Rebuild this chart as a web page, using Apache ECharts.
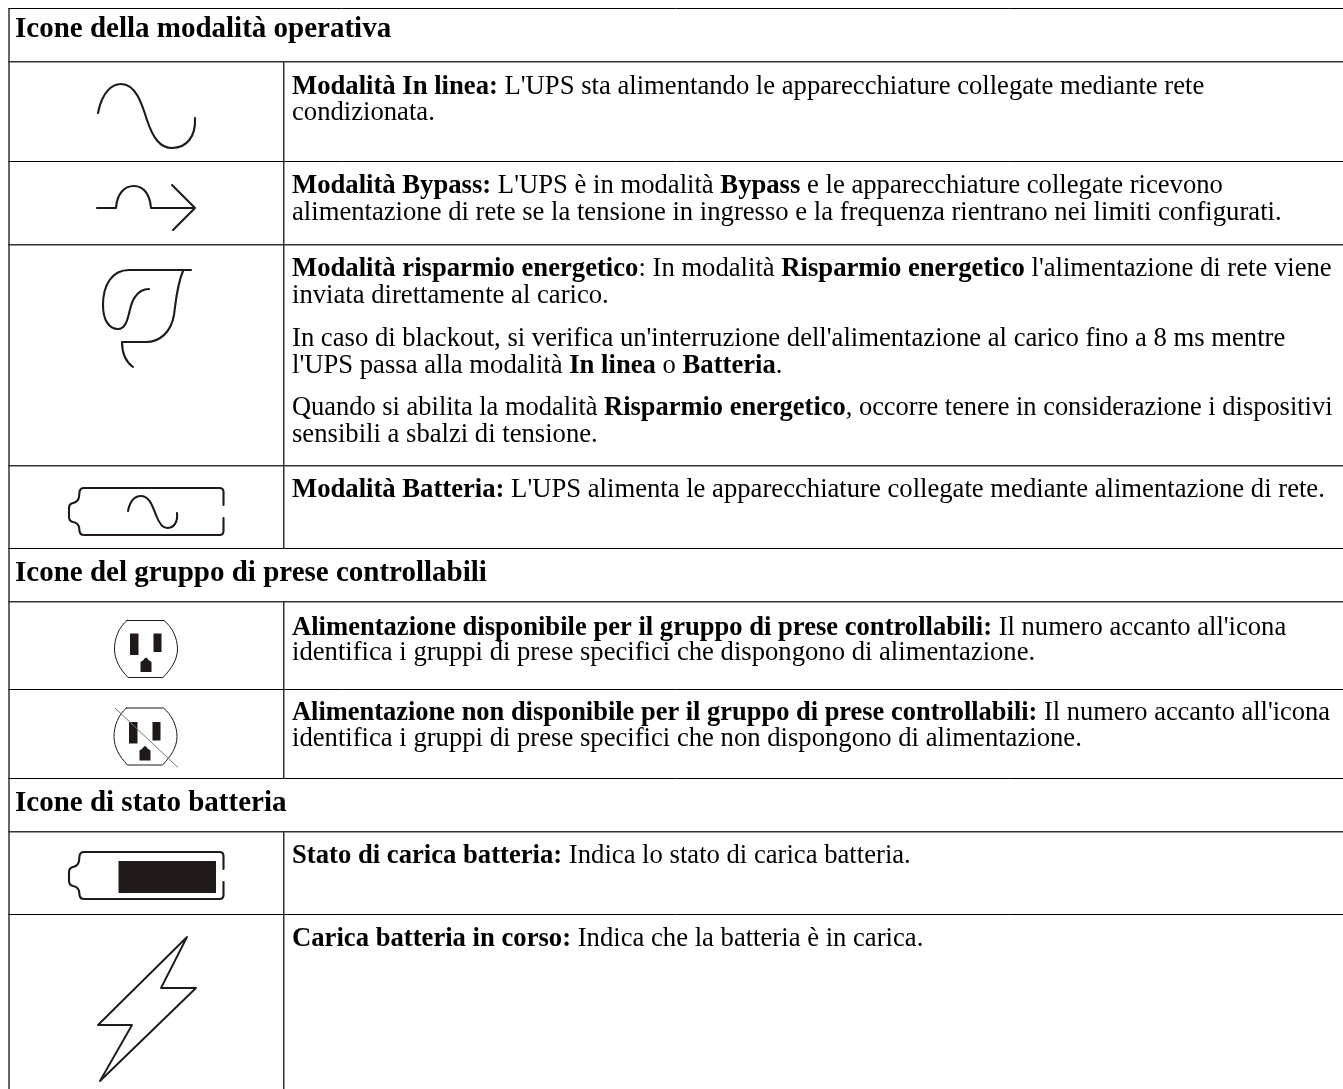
<!DOCTYPE html>
<html>
<head>
<meta charset="utf-8">
<style>
html, body { margin: 0; padding: 0; background: #fff; }
#main { width: 1343px; height: 1089px; }
</style>
<script src="https://cdn.jsdelivr.net/npm/echarts@6/dist/echarts.min.js"></script>
</head>
<body>
<div id="main"></div>
<script>
var sectionTitles = [
  "Icone della modalità operativa",
  "Icone del gruppo di prese controllabili",
  "Icone di stato batteria"
];
var sectionY = [30, 574, 804];

// description lines, **bold** parts are marked
var descriptionLines = [
  "**Modalità In linea:** L'UPS sta alimentando le apparecchiature collegate mediante rete",
  "condizionata.",
  "**Modalità Bypass:** L'UPS è in modalità **Bypass** e le apparecchiature collegate ricevono",
  "alimentazione di rete se la tensione in ingresso e la frequenza rientrano nei limiti configurati.",
  "**Modalità risparmio energetico**: In modalità **Risparmio energetico** l'alimentazione di rete viene",
  "inviata direttamente al carico.",
  "In caso di blackout, si verifica un'interruzione dell'alimentazione al carico fino a 8 ms mentre",
  "l'UPS passa alla modalità **In linea** o **Batteria**.",
  "Quando si abilita la modalità **Risparmio energetico**, occorre tenere in considerazione i dispositivi",
  "sensibili a sbalzi di tensione.",
  "**Modalità Batteria:** L'UPS alimenta le apparecchiature collegate mediante alimentazione di rete.",
  "**Alimentazione disponibile per il gruppo di prese controllabili:** Il numero accanto all'icona",
  "identifica i gruppi di prese specifici che dispongono di alimentazione.",
  "**Alimentazione non disponibile per il gruppo di prese controllabili:** Il numero accanto all'icona",
  "identifica i gruppi di prese specifici che non dispongono di alimentazione.",
  "**Stato di carica batteria:** Indica lo stato di carica batteria.",
  "**Carica batteria in corso:** Indica che la batteria è in carica."
];
var descriptionY = [87, 113, 186, 213, 269, 296, 339, 366, 408, 435, 490, 628, 653, 713, 739, 856, 939];
// a few long lines run slightly narrower in the original
var descriptionFit = [1, 1, 1, 1, 1, 1, 1, 1, 0.992, 1, 1, 0.9975, 1, 0.992, 1, 1, 1];

// table rules: [y, width]. The wider ones look greyer in the scan
var rowLines = [[8.5, 1], [61.75, 1.5], [161.5, 1], [244.75, 1.5], [465.75, 1.5], [548.5, 1], [601.75, 1.5], [689.5, 1], [778.5, 1], [831.75, 1.5], [914.5, 1]];
var columnLineSpans = [[61.5, 548.5], [601.5, 778.5], [831.5, 1089]];

var ICON_COLOR = "#1f1a17";
var RULE_COLOR = "#333";
var serif = '"Liberation Serif", "Times New Roman", serif';

function batteryPath(dy) {
  var y = function (v) { return v + dy; };
  return "M223.5 " + y(505) + " L223.5 " + y(492) + " Q223.5 " + y(488) + " 219.5 " + y(488) +
    " L84 " + y(488) + " Q80 " + y(488) + " 79.5 " + y(492) + " L79 " + y(497) + " Q78 " + y(502) + " 73 " + y(503) +
    " Q69 " + y(504) + " 69 " + y(508) + " L69 " + y(517) + " Q69 " + y(521) + " 73 " + y(522) +
    " Q78 " + y(523) + " 79 " + y(527) + " L79.5 " + y(531) + " Q80 " + y(535) + " 84 " + y(535) +
    " L219.5 " + y(535) + " Q223.5 " + y(535) + " 223.5 " + y(531) + " L223.5 " + y(518);
}

function outletBody(dx, dy) {
  var p = function (x, y) { return (x + dx) + " " + (y + dy); };
  return "M" + p(127, 620.5) + " L" + p(164, 620.5) + " C" + p(172, 627) + " " + p(177.5, 638) + " " + p(177.5, 649) +
    " C" + p(177.5, 660) + " " + p(171, 669) + " " + p(163, 677.5) + " L" + p(128, 677.5) +
    " C" + p(120, 669) + " " + p(114.5, 660) + " " + p(114.5, 649) + " C" + p(114.5, 638) + " " + p(119, 627) + " " + p(127, 620.5) + " Z";
}

function outletPins(dx, dy) {
  var p = function (x, y) { return (x + dx) + " " + (y + dy); };
  return "M" + p(130, 633.5) + " L" + p(138.5, 633.5) + " L" + p(138.5, 655) + " L" + p(130, 655) + " Z" +
    " M" + p(153.5, 633.5) + " L" + p(161.5, 633.5) + " L" + p(161.5, 652) + " L" + p(153.5, 652) + " Z" +
    " M" + p(140.5, 672) + " L" + p(140.5, 662) + " L" + p(143.5, 660) + " Q" + p(146, 655) + " " + p(148.5, 660) +
    " L" + p(151.5, 662) + " L" + p(151.5, 672) + " Z";
}

// stroked icons, drawn in page pixels
var strokeIcons = [
  // sine
  { d: "M98 113 C102 92 112 84 121 84 C136 84 142 104 147 120 C153 138 160 148 172 148 C187 148 196 136 195 118", w: 2.1 },
  // bypass
  { d: "M97 208 L116 208 C117 194 124 186 134 186 C144 186 150 195 151 208 L195 208 M172 185 L195 208 L173 230", w: 2.1 },
  // leaf
  { d: "M191 270 L129 270 C112 270 103 285 103 305 C103 320 109 329 118 329 C130 329 128 305 135 297 C139 291 144 289 149 289", w: 2.1 },
  { d: "M183 271 C177 285 176 300 174 315 C171 332 160 342 146 342 L122 342 C122 354 126 362 133 367", w: 2.1 },
  // batteries
  { d: batteryPath(0), w: 2.1 },
  { d: "M128 511 C130 501 135 496 141 496 C150 496 153 508 156 515 C159 523 162 528 167 528 C174 528 178 522 177 513", w: 2.1 },
  { d: batteryPath(364), w: 2.1 },
  // lightning
  { d: "M187 937 L161 988 L196 988 L100 1081 L132 1025 L98 1025 Z", w: 1.9 },
  // outlets
  { d: outletBody(0, 0), w: 1 },
  { d: outletBody(-0.5, 87.5), w: 1 }
];

var fillIcons = [
  outletPins(0, 0),
  outletPins(-1, 88.5),
  "M118.5 861 L216 861 L216 893 L118.5 893 Z"
];

var elements = [];

elements.push({ type: "rect", shape: { x: 0, y: 0, width: 1343, height: 1089 }, style: { fill: "#fff" } });

rowLines.forEach(function (r) {
  elements.push({ type: "line", shape: { x1: 8, y1: r[0], x2: 1343, y2: r[0] }, style: { stroke: r[1] > 1 ? RULE_COLOR : "#000", lineWidth: r[1] } });
});
elements.push({ type: "line", shape: { x1: 9, y1: 8, x2: 9, y2: 1089 }, style: { stroke: RULE_COLOR, lineWidth: 1.5 } });
columnLineSpans.forEach(function (s) {
  elements.push({ type: "line", shape: { x1: 283.75, y1: s[0], x2: 283.75, y2: s[1] }, style: { stroke: RULE_COLOR, lineWidth: 1.5 } });
});

// graphic has no plain "path" type, so each icon is registered as its own shape
function iconElement(name, d, style) {
  echarts.graphic.registerShape(name, echarts.graphic.extendPath(d, {}));
  return { type: name, shape: {}, style: style };
}

strokeIcons.forEach(function (ic, i) {
  elements.push(iconElement("strokeIcon" + i, ic.d, { fill: "none", stroke: ICON_COLOR, lineWidth: ic.w, lineJoin: "round", lineCap: "round" }));
});
fillIcons.forEach(function (d, i) {
  elements.push(iconElement("fillIcon" + i, d, { fill: ICON_COLOR, stroke: "none" }));
});
// slash across the unavailable outlet
elements.push({ type: "line", shape: { x1: 115, y1: 708, x2: 178, y2: 767.5 }, style: { stroke: "#777", lineWidth: 1 } });

sectionTitles.forEach(function (t, i) {
  elements.push({
    type: "text", x: 15, y: sectionY[i],
    style: {
      text: "{h|" + t + "}",
      verticalAlign: "middle",
      rich: { h: { font: "bold 29px " + serif, fill: "#000" } }
    }
  });
});

function toRich(line) {
  // **x** -> {b|x}, rest -> {n|x}
  return line.split("**").map(function (part, i) {
    if (!part) return "";
    return "{" + (i % 2 ? "b" : "n") + "|" + part + "}";
  }).join("");
}

descriptionLines.forEach(function (line, i) {
  elements.push({
    type: "text", x: 292, y: descriptionY[i], scaleX: descriptionFit[i],
    style: {
      text: toRich(line),
      verticalAlign: "middle",
      rich: {
        n: { font: "26.67px " + serif, fill: "#000" },
        b: { font: "bold 26.67px " + serif, fill: "#000" }
      }
    }
  });
});

var myChart = echarts.init(document.getElementById("main"), null, { renderer: "canvas" });
myChart.setOption({
  animation: false,
  backgroundColor: "#fff",
  graphic: { elements: elements }
});
</script>
</body>
</html>
